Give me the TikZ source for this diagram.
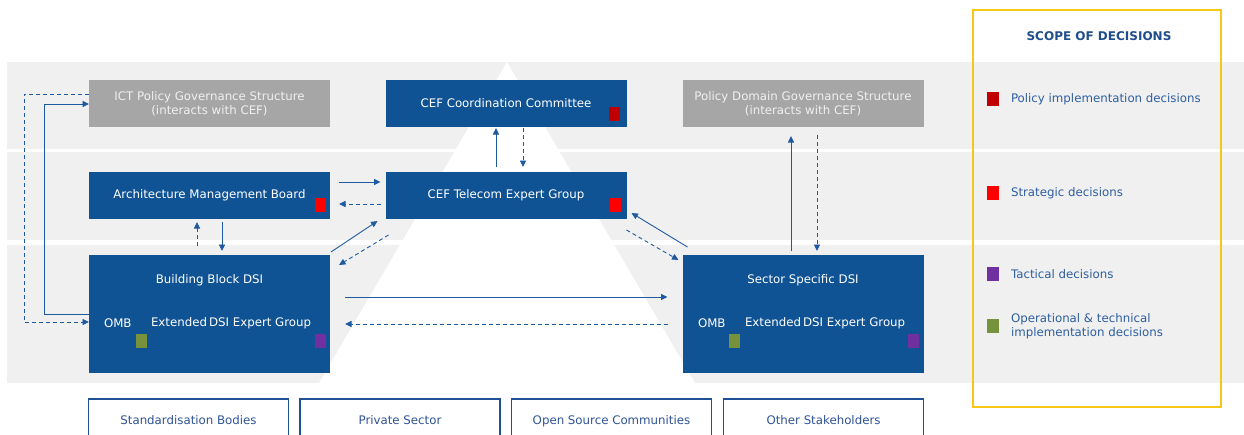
\documentclass[tikz,border=0pt]{standalone}
\usepackage{fontspec}
\setmainfont{DejaVu Sans}
\usetikzlibrary{arrows.meta,calc}
\definecolor{bandgray}{RGB}{240,240,240}
\definecolor{boxblue}{RGB}{16,83,148}
\definecolor{arrblue}{RGB}{31,90,160}
\definecolor{boxgray}{RGB}{166,166,166}
\definecolor{graytext}{RGB}{240,240,240}
\definecolor{legtext}{RGB}{46,94,160}
\definecolor{legtitle}{RGB}{31,78,140}
\definecolor{obtext}{RGB}{47,84,150}
\definecolor{obline}{RGB}{30,80,150}
\definecolor{legyellow}{RGB}{245,200,20}
\definecolor{dred}{RGB}{192,0,0}
\definecolor{bred}{RGB}{255,0,0}
\definecolor{dpurple}{RGB}{112,48,160}
\definecolor{dgreen}{RGB}{118,146,60}
\begin{document}
\begin{tikzpicture}[x=1pt,y=-1pt,
  txt/.style={font=\fontsize{11.8}{14}\selectfont, inner sep=0pt, outer sep=0pt},
  bluebox/.style={txt, fill=boxblue, text=white, minimum width=241pt, minimum height=47pt, align=center},
  graybox/.style={txt, fill=boxgray, text=graytext, minimum width=241pt, minimum height=47pt, align=center},
  dsibox/.style={fill=boxblue, minimum width=241pt, minimum height=118pt, inner sep=0pt, outer sep=0pt},
  outbox/.style={txt, draw=obline, line width=1.3pt, fill=white, text=obtext, minimum width=200pt, minimum height=44pt, anchor=north, text height=8.6pt, text depth=2.4pt},
  sq/.style={minimum width=11pt, minimum height=14pt, inner sep=0pt, outer sep=0pt},
  ar/.style={draw=arrblue, line width=0.9pt, -{Triangle[length=6.5pt,width=6pt]}},
  dar/.style={ar, dash pattern=on 4pt off 3pt},
  legitem/.style={txt, text=legtext, anchor=west, align=left}
]
\useasboundingbox (0,0) rectangle (1244,434);
% bands
\fill[bandgray] (7,62) rectangle (1244,149);
\fill[bandgray] (7,152) rectangle (1244,240);
\fill[bandgray] (7,245) rectangle (1244,383);
\fill[white] (507,62) -- (319,383) -- (695,383) -- cycle;

% top row
\node[graybox] (ict) at (209.5,103.5) {ICT Policy Governance Structure\\(interacts with CEF)};
\node[bluebox] (ccc) at (506,103.5) {CEF Coordination Committee};
\node[graybox] (pdgs) at (803,103.5) {Policy Domain Governance Structure\\(interacts with CEF)};
% middle row
\node[bluebox] (amb) at (209.5,195.5) {Architecture Management Board};
\node[bluebox] (cteg) at (506,195.5) {CEF Telecom Expert Group};
% DSI boxes
\node[dsibox] (bb) at (209.5,314) {};
\node[dsibox] (ssd) at (803,314) {};
\node[txt, text=white] (bbt) at (209.5,280) {Building Block DSI};
\node[txt, text=white, anchor=west] (bbo) at (104,323) {OMB};
\node[txt, text=white, anchor=west] (bbe) at (151,323) {Extended\,DSI Expert Group};
\node[txt, text=white] (ssdt) at (803,280) {Sector Specific DSI};
\node[txt, text=white, anchor=west] (ssdo) at (698,323) {OMB};
\node[txt, text=white, anchor=west] (ssde) at (745,323) {Extended\,DSI Expert Group};

% decision squares
\node[sq, fill=dred] (sq1) at (614.5,114) {};
\node[sq, fill=bred] (sq2) at (320.5,205) {};
\node[sq, fill=bred] (sq3) at (615.5,205) {};
\node[sq, fill=dgreen] (sq4) at (141,340.5) {};
\node[sq, fill=dpurple] (sq5) at (320,340.5) {};
\node[sq, fill=dgreen] (sq6) at (734,340.5) {};
\node[sq, fill=dpurple] (sq7) at (913.5,340.5) {};

% bottom boxes
\node[outbox] (std) at (188.5,399) {Standardisation Bodies};
\node[outbox] (priv) at (400,399) {Private Sector};
\node[outbox] (oss) at (611.5,399) {Open Source Communities};
\node[outbox] (oth) at (823.5,399) {Other Stakeholders};

% legend
\node[draw=legyellow, line width=1.3pt, minimum width=248pt, minimum height=397pt, inner sep=0pt] (legend) at (1097,208.5) {};
\node[txt, text=legtitle, font=\fontsize{12}{14}\selectfont\bfseries] (legt) at (1099,36) {SCOPE OF DECISIONS};
\node[sq, fill=dred, minimum width=12pt] (l1) at (993,99) {};
\node[legitem] (l1t) at (1011,99) {Policy implementation decisions};
\node[sq, fill=bred, minimum width=12pt] (l2) at (993,193) {};
\node[legitem] (l2t) at (1011,193) {Strategic decisions};
\node[sq, fill=dpurple, minimum width=12pt] (l3) at (993,274) {};
\node[legitem] (l3t) at (1011,274) {Tactical decisions};
\node[sq, fill=dgreen, minimum width=12pt] (l4) at (993,326) {};
\node[legitem] (l4t) at (1011,326) {Operational \& technical\\implementation decisions};

% connectors
\draw[dar] ($(ict.west)+(0,-9.5)$) -- ++(-65,0) |- ($(bb.west)+(0,8)$);
\draw[ar] (bb.west) -- ++(-45,0) |- ($(ict.west)+(0,0.5)$);
\draw[ar] ($(amb.east)+(9,-13.5)$) -- ($(cteg.west)+(-5,-13.5)$);
\draw[dar] ($(cteg.west)+(-5,8.5)$) -- ($(amb.east)+(9,8.5)$);
\draw[dar] ($(bb.north)+(-12.5,-9)$) -- ($(amb.south)+(-12.5,3)$);
\draw[ar] ($(amb.south)+(12.5,3)$) -- ($(bb.north)+(12.5,-4)$);
\draw[ar] ($(cteg.north)+(-10,-5)$) -- ($(ccc.south)+(-10,1)$);
\draw[dar] ($(ccc.south)+(17,1)$) -- ($(cteg.north)+(17,-5)$);
\draw[ar] ($(ssd.north)+(-12,-4)$) -- ($(pdgs.south)+(-12,9)$);
\draw[dar] ($(pdgs.south)+(14,8)$) -- ($(ssd.north)+(14,-4)$);
\draw[ar] ($(bb.north east)+(1,-3)$) -- ($(cteg.south west)+(-8,2)$);
\draw[dar] ($(cteg.south west)+(3,16)$) -- ($(bb.north east)+(9,10)$);
\draw[ar] ($(ssd.north west)+(5,-8)$) -- ($(cteg.south east)+(5,-6)$);
\draw[dar] ($(cteg.south east)+(0,11)$) -- ($(ssd.north west)+(-4,5)$);
\draw[ar] ($(bb.east)+(15,-17)$) -- ($(ssd.west)+(-15,-17)$);
\draw[dar] ($(ssd.west)+(-15,10)$) -- ($(bb.east)+(15,10)$);
\end{tikzpicture}
\end{document}
